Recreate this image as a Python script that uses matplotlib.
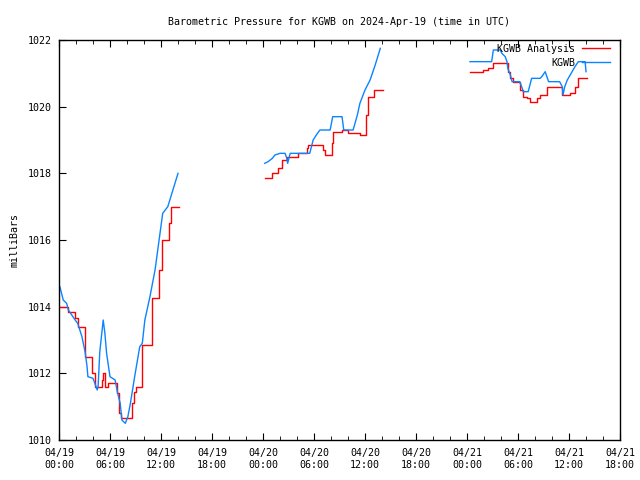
import matplotlib
matplotlib.use("Agg")
import matplotlib.pyplot as plt
import matplotlib.ticker as mticker
import numpy as np

plt.rcParams["font.family"] = ["DejaVu Sans Mono"]
plt.rcParams["font.size"] = 7.2

NAN = np.nan

# ── 데이터 (시간: 2024-04-19 00:00 UTC 기준 경과 시간) ───────────────────
# KGWB 관측값
obs_hours = [0.1, 0.5, 0.9, 1.1, 1.9, 2.2, 2.7, 3.1, 3.3, 3.4, 4.0, 4.5, 4.6,
             4.8, 5.2, 5.4, 5.6, 6.0, 6.6, 6.9, 7.2, 7.4, 7.8, 8.1, 8.4, 8.9,
             9.5, 9.8, 10.1, 10.7, 11.3, 12.2, 12.8, 14.0,
             14.1,
             24.2, 24.6, 25.1, 25.4, 26.0, 26.6, 26.8, 26.9, 27.2, 29.5, 29.8,
             29.9, 30.4, 30.7, 31.9, 32.2, 33.3, 33.5, 34.6, 35.1, 35.4, 36.0,
             36.6, 37.2, 37.8,
             37.9,
             48.35, 50.9, 51.1, 51.9, 52.1, 52.5, 52.7, 52.8, 53.1, 53.3, 54.2,
             54.5, 54.6, 55.2, 55.4, 55.6, 56.6, 56.8, 57.2, 57.4, 57.6, 58.9,
             59.2, 59.3, 59.5, 59.8, 60.7, 61.1, 61.9, 62.0]
obs_mb = [1014.6, 1014.2, 1014.1, 1013.9, 1013.6, 1013.5, 1013.1, 1012.6,
          1012.2, 1011.9, 1011.85, 1011.5, 1011.6, 1012.65, 1013.6, 1013.2,
          1012.6, 1011.9, 1011.8, 1011.4, 1011.1, 1010.6, 1010.5, 1010.7,
          1011.1, 1011.9, 1012.8, 1012.9, 1013.6, 1014.3, 1015.1, 1016.8,
          1017.0, 1018.0,
          NAN,
          1018.3, 1018.35, 1018.45, 1018.55, 1018.6, 1018.6, 1018.45, 1018.3,
          1018.6, 1018.6, 1018.9, 1019.0, 1019.2, 1019.3, 1019.3, 1019.7,
          1019.7, 1019.3, 1019.3, 1019.75, 1020.1, 1020.5, 1020.8, 1021.25,
          1021.75,
          NAN,
          1021.35, 1021.35, 1021.7, 1021.7, 1021.6, 1021.5, 1021.35, 1021.15,
          1020.95, 1020.75, 1020.75, 1020.55, 1020.45, 1020.45, 1020.65,
          1020.85, 1020.85, 1020.9, 1021.05, 1020.9, 1020.75, 1020.75, 1020.6,
          1020.35, 1020.6, 1020.8, 1021.2, 1021.35, 1021.35, 1021.05]

# KGWB Analysis (계단형)
ana_hours = [0.0, 1.0, 1.9, 2.2, 3.1, 3.9, 4.2, 5.0, 5.2, 5.4, 5.8, 6.8, 7.0,
             7.3, 8.6, 8.8, 9.0, 9.8, 10.9, 11.8, 12.1, 12.9, 13.2, 14.0,
             14.1,
             24.2, 25.1, 25.8, 26.2, 26.8, 28.1, 29.2, 29.3, 31.1, 31.3, 32.1,
             32.2, 33.3, 34.0, 35.4, 36.1, 36.4, 37.1, 38.0,
             38.1,
             48.35, 49.8, 49.9, 50.5, 51.1, 52.7, 52.8, 53.1, 53.4, 54.0, 54.2,
             54.6, 55.1, 55.4, 56.0, 56.2, 56.6, 57.4, 58.7, 59.2, 59.9, 60.1,
             60.7, 61.1, 61.5, 62.1]
ana_mb = [1014.0, 1013.85, 1013.65, 1013.4, 1012.5, 1012.0, 1011.6, 1011.8,
          1012.0, 1011.6, 1011.7, 1011.4, 1010.8, 1010.65, 1011.1, 1011.45,
          1011.6, 1012.85, 1014.25, 1015.1, 1016.0, 1016.5, 1017.0, 1017.0,
          NAN,
          1017.85, 1018.0, 1018.15, 1018.4, 1018.5, 1018.6, 1018.75, 1018.85,
          1018.7, 1018.55, 1018.9, 1019.25, 1019.3, 1019.2, 1019.15, 1019.75,
          1020.3, 1020.5, 1020.5,
          NAN,
          1021.05, 1021.05, 1021.1, 1021.15, 1021.3, 1021.3, 1021.05, 1020.85,
          1020.75, 1020.75, 1020.5, 1020.3, 1020.25, 1020.15, 1020.15, 1020.25,
          1020.35, 1020.6, 1020.6, 1020.35, 1020.35, 1020.4, 1020.6, 1020.85,
          1020.85, 1020.85]

tick_hours = [0, 6, 12, 18, 24, 30, 36, 42, 48, 54, 60, 66]
tick_labels = ["04/19\n00:00", "04/19\n06:00", "04/19\n12:00", "04/19\n18:00",
               "04/20\n00:00", "04/20\n06:00", "04/20\n12:00", "04/20\n18:00",
               "04/21\n00:00", "04/21\n06:00", "04/21\n12:00", "04/21\n18:00"]

# ── 그림 ────────────────────────────────────────────────────────────────
fig = plt.figure(figsize=(6.4, 4.8), dpi=100)
ax = fig.add_axes([59 / 640, 40 / 480, 561 / 640, 400 / 480])

ax.plot(ana_hours, ana_mb, drawstyle="steps-post", color="#ff0000",
        linewidth=1.0, label="KGWB Analysis")
ax.plot(obs_hours, obs_mb, color="#0a84ff", linewidth=1.0, label="KGWB")

ax.set_xlim(0, 66)
ax.set_ylim(1010, 1022)
ax.set_xticks(tick_hours)
ax.set_xticklabels(tick_labels)
ax.xaxis.set_minor_locator(mticker.MultipleLocator(2))
ax.yaxis.set_major_locator(mticker.MultipleLocator(2))
ax.yaxis.set_major_formatter(mticker.FormatStrFormatter("%d"))
ax.tick_params(axis="x", which="both", direction="in", top=True,
               bottom=True, pad=6)
ax.tick_params(axis="x", which="major", length=5)
ax.tick_params(axis="x", which="minor", length=3)
ax.tick_params(axis="y", direction="in", length=5, right=False, pad=5)
for sp in ax.spines.values():
    sp.set_linewidth(1.0)

ax.set_title("Barometric Pressure for KGWB on 2024-Apr-19 (time in UTC)",
             fontsize=7.2, pad=11)
ax.set_ylabel("milliBars", labelpad=6)

leg = ax.legend(loc="upper right", bbox_to_anchor=(0.982, 0.99),
                frameon=False, markerfirst=False, borderpad=0,
                borderaxespad=0, handlelength=2.8, handletextpad=0.7,
                labelspacing=0.4, fontsize=7.2)

fig.savefig("out.png", dpi=100)
